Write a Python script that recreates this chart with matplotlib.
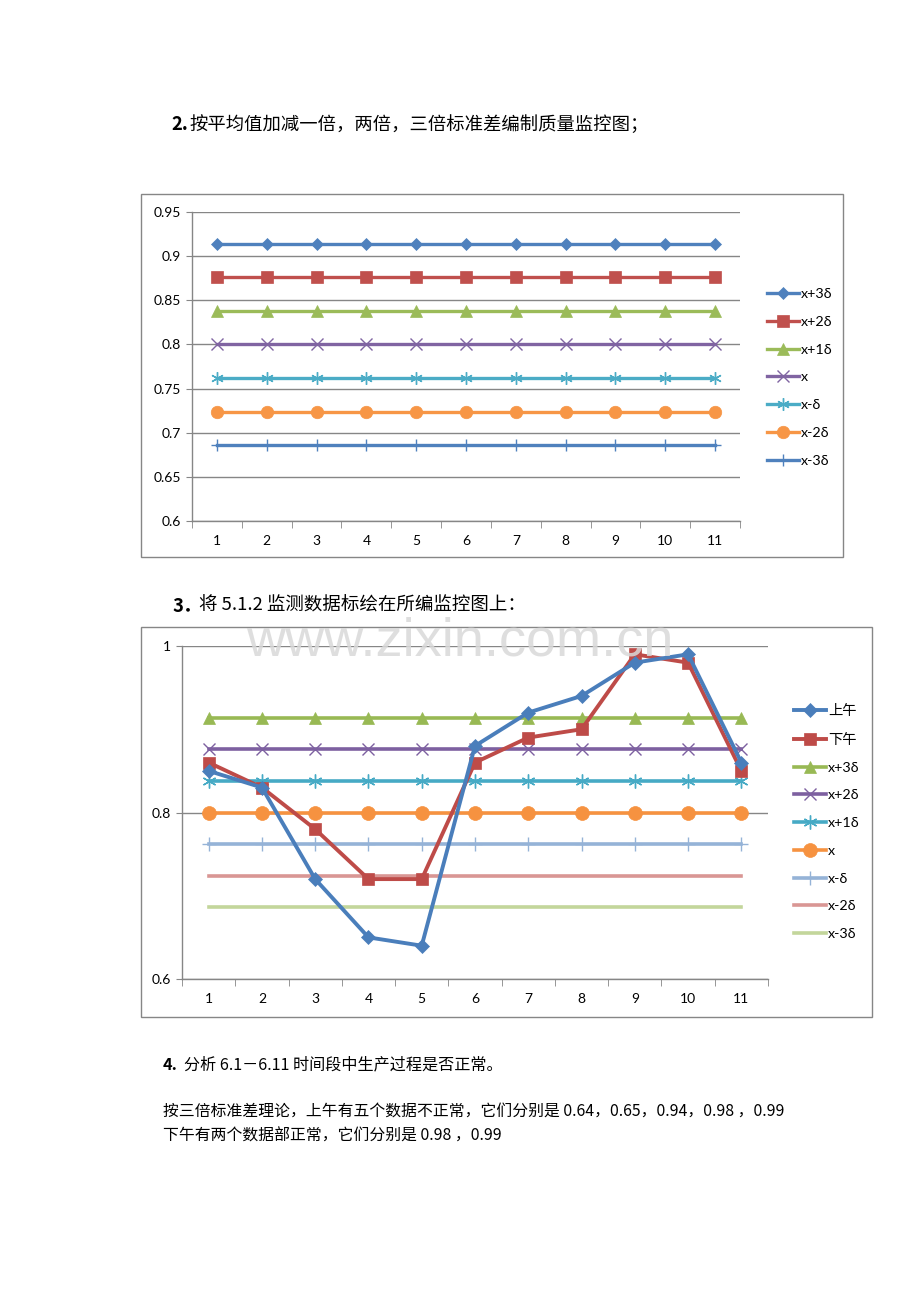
import matplotlib
matplotlib.use("Agg")
import matplotlib.pyplot as plt
from matplotlib.patches import Rectangle

W, H = 920, 1302
DPI = 100

# ---------------- data ----------------
categories = list(range(1, 12))
limit_labels = ["x+3δ", "x+2δ", "x+1δ", "x", "x-δ", "x-2δ", "x-3δ"]
limit_values = [0.914, 0.876, 0.838, 0.800, 0.762, 0.724, 0.686]

morning = [0.85, 0.83, 0.72, 0.65, 0.64, 0.88, 0.92, 0.94, 0.98, 0.99, 0.86]
afternoon = [0.86, 0.83, 0.78, 0.72, 0.72, 0.86, 0.89, 0.90, 0.99, 0.98, 0.85]
series2_labels = ["上午", "下午"]

chart1_yticks = [0.6, 0.65, 0.7, 0.75, 0.8, 0.85, 0.9, 0.95]
chart1_ytick_labels = ["0.6", "0.65", "0.7", "0.75", "0.8", "0.85", "0.9", "0.95"]
chart2_yticks = [0.6, 0.8, 1.0]
chart2_ytick_labels = ["0.6", "0.8", "1"]

text_line2 = "按平均值加减一倍，两倍，三倍标准差编制质量监控图；"
text_line3 = "将 5.1.2 监测数据标绘在所编监控图上："
text_line4 = "分析 6.1－6.11 时间段中生产过程是否正常。"
text_line5 = "按三倍标准差理论，上午有五个数据不正常，它们分别是 0.64，0.65，0.94，0.98 ，0.99"
text_line6 = "下午有两个数据部正常，它们分别是 0.98 ，0.99"
watermark = "www.zixin.com.cn"

# ---------------- styles ----------------
CJK = ["Noto Sans CJK SC", "DejaVu Sans"]
LAT = ["Lato", "Noto Sans CJK SC", "DejaVu Sans"]
GRID = "#868686"

fig = plt.figure(figsize=(W / DPI, H / DPI), dpi=DPI)
fig.patch.set_facecolor("white")


def fx(px):
    return px / W


def fy(py):
    return 1 - py / H


def add_axes_px(l, t, r, b):
    return fig.add_axes([fx(l), fy(b), (r - l) / W, (b - t) / H])


def frame(l, t, r, b):
    fig.patches.append(Rectangle((fx(l), fy(b)), (r - l) / W, (b - t) / H,
                                 transform=fig.transFigure, fill=False,
                                 edgecolor=GRID, linewidth=1.0, zorder=0))


def style_axes(ax, yticks, ylabels, ylim):
    ax.set_xlim(0.5, 11.5)
    ax.set_ylim(*ylim)
    ax.set_yticks(yticks)
    ax.set_yticklabels(ylabels, fontfamily=LAT, fontsize=10)
    ax.set_xticks(categories)
    ax.set_xticklabels([str(c) for c in categories], fontfamily=LAT, fontsize=10)
    ax.set_xticks([c + 0.5 for c in [0] + categories], minor=True)
    ax.tick_params(axis="x", which="major", length=0, pad=10)
    ax.tick_params(axis="x", which="minor", length=5, color=GRID, direction="out")
    ax.tick_params(axis="y", length=4, color=GRID, direction="out", pad=4)
    for s in ["top", "right"]:
        ax.spines[s].set_visible(False)
    for s in ["left", "bottom"]:
        ax.spines[s].set_color(GRID)
        ax.spines[s].set_linewidth(1.0)
    ax.grid(axis="y", color=GRID, linewidth=1.0)
    ax.set_axisbelow(True)
    ax.patch.set_alpha(0)


# ---------------- text ----------------
fig.text(fx(171), fy(125), "2.", fontsize=13.3, fontweight="bold", fontfamily=CJK, va="center")
fig.text(fx(189), fy(125), text_line2, fontsize=13.2, fontfamily=CJK, va="center")
fig.text(fx(172), fy(606), "3．", fontsize=13.3, fontweight="bold", fontfamily=CJK, va="center")
fig.text(fx(199), fy(606), text_line3, fontsize=13.3, fontfamily=CJK, va="center")
fig.text(fx(163), fy(1065), "4.", fontsize=11.6, fontweight="bold", fontfamily=CJK, va="center")
fig.text(fx(184), fy(1065), text_line4, fontsize=11.6, fontfamily=CJK, va="center")
fig.text(fx(163), fy(1112), text_line5, fontsize=11.4, fontfamily=CJK, va="center")
fig.text(fx(163), fy(1136), text_line6, fontsize=11.4, fontfamily=CJK, va="center")

# ---------------- chart 1 ----------------
frame(141, 194, 843, 557)
ax1 = add_axes_px(192, 212, 740, 521)
style_axes(ax1, chart1_yticks, chart1_ytick_labels, (0.6, 0.95))

c1_colors = ["#4F81BD", "#C0504D", "#9BBB59", "#8064A2", "#4BACC6", "#F79646", "#4F81BD"]
c1_markers = ["D", "s", "^", "x", (6, 2, 0), "o", "+"]
c1_msize = [6, 8, 8, 8, 9, 9, 9]
for lab, val, col, mk, ms in zip(limit_labels, limit_values, c1_colors, c1_markers, c1_msize):
    ax1.plot(categories, [val] * len(categories), color=col, lw=2.4, marker=mk,
             markersize=ms, markeredgewidth=1.0 if mk in ("x", "+", (6, 2, 0)) else 0.5,
             markeredgecolor=col, label=lab, clip_on=False)
ax1.legend(loc="upper left", bbox_to_anchor=(fx(760), fy(281)),
           bbox_transform=fig.transFigure, frameon=False,
           prop={"family": LAT, "size": 10.3}, handlelength=2.2,
           handletextpad=0.15, labelspacing=1.1, borderpad=0)

# ---------------- chart 2 ----------------
frame(141, 627, 872, 1017)
ax2 = add_axes_px(182, 646, 768, 979)
style_axes(ax2, chart2_yticks, chart2_ytick_labels, (0.6, 1.0))

c2_colors = ["#4A7EBB", "#BE4B48", "#98B954", "#7D60A0", "#46AAC5", "#F69240", "#95B3D7", "#D99694", "#C3D69B"]
c2_labels = series2_labels + limit_labels
c2_values = [morning, afternoon] + [[v] * len(categories) for v in limit_values]
c2_markers = ["D", "s", "^", "x", (6, 2, 0), "o", "+", "", ""]
c2_msize = [7, 9, 9, 9, 10, 10, 10, 0, 0]
c2_z = [5, 4, 3, 3, 3, 3, 3, 3, 3]
for lab, vals, col, mk, ms, z in zip(c2_labels, c2_values, c2_colors, c2_markers, c2_msize, c2_z):
    ax2.plot(categories, vals, color=col, lw=2.8 if z > 3 else 2.6, marker=mk if mk else None,
             markersize=ms, markeredgewidth=1.0 if mk in ("x", "+", (6, 2, 0)) else 0.5,
             markeredgecolor=col, label=lab, zorder=z, clip_on=False)
ax2.legend(loc="upper left", bbox_to_anchor=(fx(787), fy(697)),
           bbox_transform=fig.transFigure, frameon=False,
           prop={"family": LAT, "size": 10.3}, handlelength=2.2,
           handletextpad=0.15, labelspacing=1.1, borderpad=0)

# watermark
fig.text(fx(460), fy(641), watermark, fontsize=39, color="#d9d9d9", alpha=0.85,
         fontfamily=["Liberation Sans", "DejaVu Sans"], ha="center", va="center", zorder=10)

fig.savefig("out.png", dpi=DPI, facecolor="white")
